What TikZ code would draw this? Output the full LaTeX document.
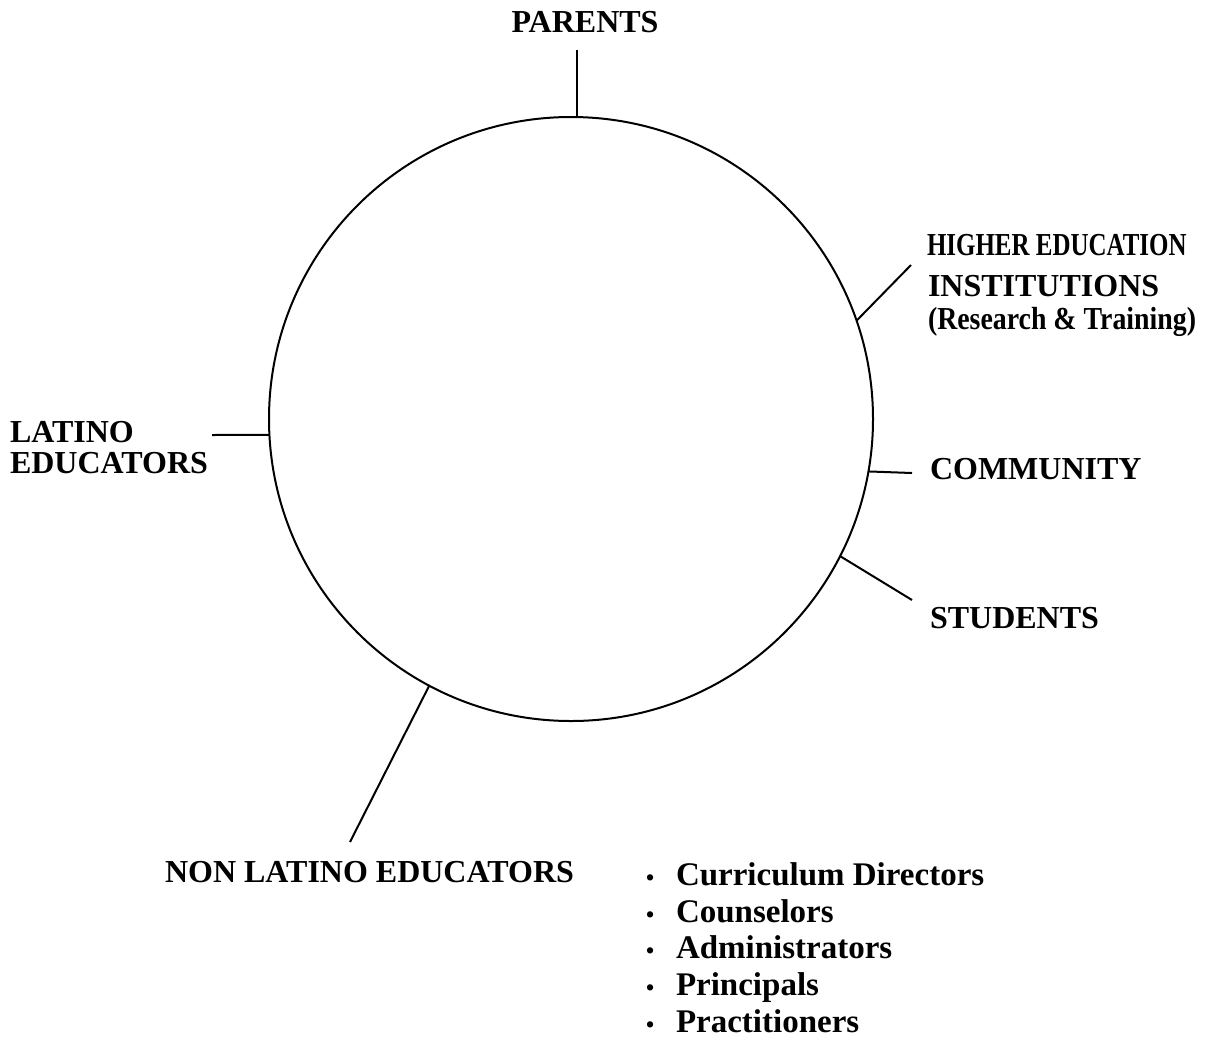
\documentclass[tikz,border=0pt]{standalone}
\usepackage{fontspec}
\setmainfont{Liberation Serif}
\begin{document}
\begin{tikzpicture}[x=1pt,y=-1pt,
  link/.style={line width=2pt},
  lbl/.style={font=\fontsize{32}{37}\selectfont\bfseries, inner sep=0pt, outer sep=0pt, anchor=base west},
  item/.style={lbl, font=\fontsize{33}{37}\selectfont\bfseries},
]
\fill[white] (0,0) rectangle (1231,1045);
\useasboundingbox (0,0) rectangle (1231,1045);

% central ring
\node[draw, circle, line width=2pt, minimum size=604pt, inner sep=0pt, outer sep=0pt] (ring) at (571,419) {};

% labels
\node[lbl, anchor=base] (parents) at (585,32) {PARENTS};
\node[lbl] (hi1) at (927,255) {\scalebox{0.78}[1]{HIGHER EDUCATION}};
\node[lbl] (hi2) at (928,296) {INSTITUTIONS};
\node[lbl] (hi3) at (928,329) {\scalebox{0.87}[1]{(Research \& Training)}};
\node[lbl] (community) at (930,479) {COMMUNITY};
\node[lbl] (students) at (930,628) {STUDENTS};
\node[lbl] (lat1) at (10,442) {LATINO};
\node[lbl] (lat2) at (10,473) {EDUCATORS};
\node[lbl] (nonlat) at (165,882) {NON LATINO EDUCATORS};

% list of educator roles
\node[item] (r1) at (646,885) {\makebox[30pt][l]{\scalebox{0.7}{\textbullet}}Curriculum Directors};
\node[item] (r2) at (646,922) {\makebox[30pt][l]{\scalebox{0.7}{\textbullet}}Counselors};
\node[item] (r3) at (646,958) {\makebox[30pt][l]{\scalebox{0.7}{\textbullet}}Administrators};
\node[item] (r4) at (646,995) {\makebox[30pt][l]{\scalebox{0.7}{\textbullet}}Principals};
\node[item] (r5) at (646,1032) {\makebox[30pt][l]{\scalebox{0.7}{\textbullet}}Practitioners};

% free ends of the spokes
\coordinate (pEnd) at (577,50);
\coordinate (hEnd) at (911,265);
\coordinate (cEnd) at (912,473);
\coordinate (sEnd) at (912,600);
\coordinate (lEnd) at (212,435);
\coordinate (nEnd) at (350,842);

% spokes
\draw[link] (pEnd) -- (pEnd |- ring.north);
\draw[link] (ring.19) -- (hEnd);
\draw[link] (ring.-10.4) -- (cEnd);
\draw[link] (ring.-27.9) -- (sEnd);
\draw[link] (ring.183) -- (lEnd);
\draw[link] (ring.242.6) -- (nEnd);
\end{tikzpicture}
\end{document}
